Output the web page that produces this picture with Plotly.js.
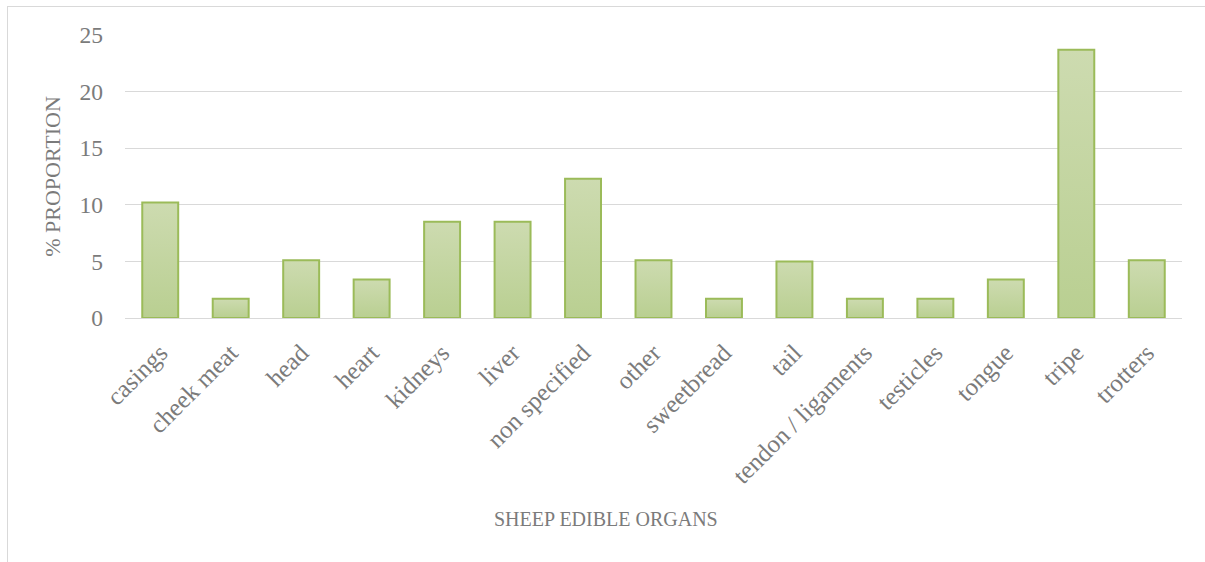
<!DOCTYPE html>
<html>
<head>
<meta charset="utf-8">
<script src="https://cdn.plot.ly/plotly-3.0.1.min.js"></script>
<style>
  html, body { margin: 0; padding: 0; background: #ffffff; }
  #wrap { position: relative; width: 1205px; height: 562px; }
  #chart { width: 1205px; height: 562px; }
  #frame { position: absolute; left: 7px; top: 6px; right: 0; bottom: 0;
           border-left: 1px solid #d9d9d9; border-top: 1px solid #d9d9d9;
           pointer-events: none; }
</style>
</head>
<body>
<div id="wrap">
  <div id="chart"></div>
  <div id="frame"></div>
</div>
<script>
// Sheep edible organs and their share (%) of the recorded items
const organs = [
  'casings', 'cheek meat', 'head', 'heart', 'kidneys', 'liver',
  'non specified', 'other', 'sweetbread', 'tail', 'tendon / ligaments',
  'testicles', 'tongue', 'tripe', 'trotters'
];
const proportion = [
  10.2, 1.7, 5.1, 3.4, 8.5, 8.5,
  12.3, 5.1, 1.7, 5.0, 1.7,
  1.7, 3.4, 23.7, 5.1
];
const yTicks = [0, 5, 10, 15, 20, 25];

const FONT = '"Liberation Serif", "DejaVu Serif", serif';
const GREY = '#7b7b7b';

const trace = {
  type: 'bar',
  x: organs,
  y: proportion,
  marker: {
    color: '#c3d69f',
    line: { color: '#9bbb59', width: 2 }
  },
  hoverinfo: 'x+y'
};

const layout = {
  width: 1205,
  height: 562,
  margin: { l: 125, r: 23, t: 35, b: 244, pad: 0 },
  paper_bgcolor: '#ffffff',
  plot_bgcolor: '#ffffff',
  bargap: 0.49,
  showlegend: false,
  font: { family: FONT, color: GREY },
  xaxis: {
    type: 'category',
    tickangle: -45,
    tickfont: { family: FONT, size: 25, color: GREY },
    ticks: '',
    ticklabelstandoff: 9,
    showgrid: false,
    showline: true,
    linecolor: '#d9d9d9',
    linewidth: 1.3,
    automargin: false
  },
  yaxis: {
    range: [0, 25],
    tickvals: yTicks,
    ticktext: yTicks.map(String),
    tickfont: { family: FONT, size: 23.5, color: GREY },
    ticks: '',
    ticklabelstandoff: 21,
    showgrid: true,
    gridcolor: '#d9d9d9',
    gridwidth: 1.3,
    zeroline: false,
    showline: false,
    automargin: false,
    title: {
      text: '% PROPORTION',
      font: { family: FONT, size: 22, color: GREY },
      standoff: 12
    }
  },
  annotations: [{
    text: 'SHEEP EDIBLE ORGANS',
    xref: 'paper', yref: 'paper',
    x: (606 - 125) / 1057, y: -(519 - 318) / 283,
    xanchor: 'center', yanchor: 'middle',
    showarrow: false,
    font: { family: FONT, size: 20, color: GREY }
  }]
};

Plotly.newPlot('chart', [trace], layout, { displayModeBar: false, staticPlot: true })
  .then(function (gd) {
    // vertical shading on each bar: lighter at the top, deeper at the base
    const svg = gd.querySelector('svg.main-svg');
    const ns = 'http://www.w3.org/2000/svg';
    let defs = svg.querySelector('defs');
    if (!defs) { defs = document.createElementNS(ns, 'defs'); svg.insertBefore(defs, svg.firstChild); }
    const grad = document.createElementNS(ns, 'linearGradient');
    grad.setAttribute('id', 'barShade');
    grad.setAttribute('x1', '0'); grad.setAttribute('y1', '0');
    grad.setAttribute('x2', '0'); grad.setAttribute('y2', '1');
    [['0', '#cddbb0'], ['1', '#b9cf91']].forEach(function (s) {
      const st = document.createElementNS(ns, 'stop');
      st.setAttribute('offset', s[0]);
      st.setAttribute('stop-color', s[1]);
      grad.appendChild(st);
    });
    defs.appendChild(grad);
    gd.querySelectorAll('.bars .point path').forEach(function (p) {
      p.style.fill = 'url(#barShade)';
    });
  });
</script>
</body>
</html>
